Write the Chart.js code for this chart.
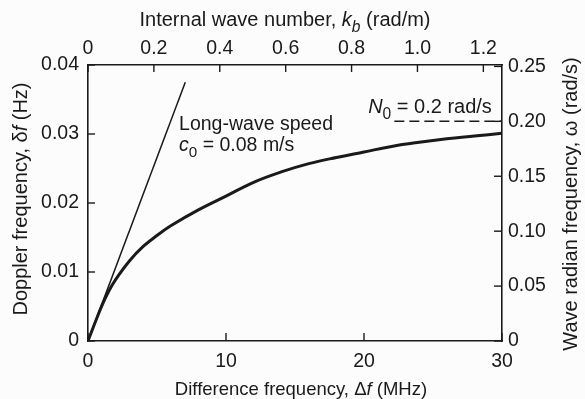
<!DOCTYPE html>
<html>
<head>
<meta charset="utf-8">
<script src="https://cdn.jsdelivr.net/npm/chart.js@4.4.1/dist/chart.umd.min.js"></script>
<style>
  body { margin: 0; background: #fdfcfd; }
  #wrap { width: 585px; height: 399px; }
</style>
</head>
<body>
<div id="wrap"><canvas id="chart" width="585" height="399"></canvas></div>
<script>
// curve: difference frequency (MHz) -> Doppler frequency (Hz)
const diffFreq    = [0, 0.5, 1, 1.5, 2, 3, 4, 5, 6, 8, 10, 12, 14, 16, 18, 20, 22, 24, 26, 28, 30];
const dopplerFreq = [0, 0.0026, 0.0051, 0.0072, 0.0089, 0.0116, 0.0137, 0.0153, 0.0167, 0.0190, 0.0210,
                     0.0230, 0.0245, 0.0257, 0.0266, 0.0274, 0.0282, 0.0288, 0.0293, 0.0297, 0.0301];
// long-wave speed line and the N0 level (right axis, rad/s)
const longWaveX = [0, 7.05];
const longWaveY = [0, 0.0375];
const n0X = [22.2, 30];
const n0Omega = [0.2, 0.2];

const xRange = [0, 30];
const yRange = [0, 0.04];
const kRange = [0, 1.2566];
const wRange = [0, 0.2513];

const xTicks = [0, 10, 20, 30];
const xTickLabels = ['0', '10', '20', '30'];
const yTicks = [0, 0.01, 0.02, 0.03, 0.04];
const yTickLabels = ['0', '0.01', '0.02', '0.03', '0.04'];
const kTicks = [0, 0.2, 0.4, 0.6, 0.8, 1.0, 1.2];
const kTickLabels = ['0', '0.2', '0.4', '0.6', '0.8', '1.0', '1.2'];
const wTicks = [0, 0.05, 0.10, 0.15, 0.20, 0.25];
const wTickLabels = ['0', '0.05', '0.10', '0.15', '0.20', '0.25'];

const ink = '#1a1a1a';
const FONT = '"Liberation Sans", Arial, sans-serif';
Chart.defaults.font.family = FONT;
Chart.defaults.color = ink;

function pts(xs, ys) {
    return xs.map((x, i) => ({ x: x, y: ys[i] }));
}

function axis(pos, range, ticks, labels, boxSize, pad) {
    const horiz = pos === 'top' || pos === 'bottom';
    return {
        type: 'linear',
        position: pos,
        min: range[0],
        max: range[1],
        grid: { display: false, drawTicks: false },
        border: { display: true, color: ink, width: 1.6 },
        ticks: {
            color: ink,
            font: { size: 19.5 },
            padding: pad,
            autoSkip: false,
            maxRotation: 0,
            callback: (v, i) => labels[i]
        },
        afterBuildTicks: s => { s.ticks = ticks.map(v => ({ value: v })); },
        afterFit: s => { if (horiz) s.height = boxSize; else s.width = boxSize; }
    };
}

// text with italic / subscript pieces: parts = [[text, 'n'|'i'|'s'|'is'], ...]
function partFont(style, size) {
    const it = style.indexOf('i') >= 0 ? 'italic ' : '';
    const sz = style.indexOf('s') >= 0 ? size * 0.78 : size;
    return it + sz + 'px ' + FONT;
}
function richWidth(ctx, parts, size) {
    let w = 0;
    parts.forEach(p => {
        ctx.font = partFont(p[1], size);
        w += ctx.measureText(p[0]).width;
    });
    return w;
}
function drawRich(ctx, parts, x, y, size, align) {
    let cx = align === 'center' ? x - richWidth(ctx, parts, size) / 2 : x;
    ctx.textBaseline = 'alphabetic';
    ctx.textAlign = 'left';
    parts.forEach(p => {
        ctx.font = partFont(p[1], size);
        const dy = p[1].indexOf('s') >= 0 ? size * 0.3 : 0;
        ctx.fillText(p[0], cx, y + dy);
        cx += ctx.measureText(p[0]).width;
    });
}

const inwardTicks = {
    id: 'inwardTicks',
    afterDatasetsDraw(chart) {
        const ctx = chart.ctx;
        const a = chart.chartArea;
        ctx.save();
        ctx.strokeStyle = ink;
        ctx.lineWidth = 1.4;
        ['x', 'x2', 'y', 'y2'].forEach(id => {
            const s = chart.scales[id];
            s.ticks.forEach(t => {
                const p = s.getPixelForValue(t.value);
                ctx.beginPath();
                if (id === 'x') { ctx.moveTo(p, a.bottom); ctx.lineTo(p, a.bottom - 8); }
                if (id === 'x2') { ctx.moveTo(p, a.top); ctx.lineTo(p, a.top + 7); }
                if (id === 'y') { ctx.moveTo(a.left, p); ctx.lineTo(a.left + 7, p); }
                if (id === 'y2') { ctx.moveTo(a.right, p); ctx.lineTo(a.right - 8, p); }
                ctx.stroke();
            });
        });
        ctx.restore();
    }
};

const titles = {
    id: 'titles',
    afterDraw(chart) {
        const ctx = chart.ctx;
        const sx = chart.scales.x, sy = chart.scales.y;
        ctx.save();
        ctx.fillStyle = ink;
        // top
        drawRich(ctx, [['Internal wave number, ', 'n'], ['k', 'i'], ['b', 'is'], [' (rad/m)', 'n']], 285, 26, 20, 'center');
        // bottom
        drawRich(ctx, [['Difference frequency, \u0394', 'n'], ['f', 'i'], [' (MHz)', 'n']], 301, 395, 18.5, 'center');
        // left, reads upward
        ctx.save();
        ctx.translate(27, 199);
        ctx.rotate(-Math.PI / 2);
        drawRich(ctx, [['Doppler frequency, \u03b4', 'n'], ['f', 'i'], [' (Hz)', 'n']], 0, 0, 20, 'center');
        ctx.restore();
        // right, also reads upward
        ctx.save();
        ctx.translate(577, 204);
        ctx.rotate(-Math.PI / 2);
        drawRich(ctx, [['Wave radian frequency, \u03c9 (rad/s)', 'n']], 0, 0, 20, 'center');
        ctx.restore();
        // annotations
        const lx = sx.getPixelForValue(6.6);
        drawRich(ctx, [['Long-wave speed', 'n']], lx, sy.getPixelForValue(0.0306), 19.5, 'left');
        drawRich(ctx, [['c', 'i'], ['0', 's'], [' = 0.08 m/s', 'n']], lx, sy.getPixelForValue(0.0275), 19.5, 'left');
        drawRich(ctx, [['N', 'i'], ['0', 's'], [' = 0.2 rad/s', 'n']], sx.getPixelForValue(20.3), sy.getPixelForValue(0.0330), 20, 'left');
        ctx.restore();
    }
};

new Chart(document.getElementById('chart'), {
    type: 'line',
    data: {
        datasets: [
            {
                data: pts(diffFreq, dopplerFreq),
                xAxisID: 'x', yAxisID: 'y',
                borderColor: ink, borderWidth: 3,
                pointRadius: 0, tension: 0.4
            },
            {
                data: pts(longWaveX, longWaveY),
                xAxisID: 'x', yAxisID: 'y',
                borderColor: ink, borderWidth: 1.5,
                pointRadius: 0
            },
            {
                data: pts(n0X, n0Omega),
                xAxisID: 'x', yAxisID: 'y2',
                borderColor: ink, borderWidth: 1.5,
                borderDash: [10, 5],
                pointRadius: 0
            }
        ]
    },
    options: {
        responsive: false,
        animation: false,
        layout: { padding: 0 },
        plugins: { legend: { display: false }, tooltip: { enabled: false } },
        scales: {
            x: axis('bottom', xRange, xTicks, xTickLabels, 58, 9),
            x2: axis('top', kRange, kTicks, kTickLabels, 65, 5),
            y: axis('left', yRange, yTicks, yTickLabels, 88, 9),
            y2: axis('right', wRange, wTicks, wTickLabels, 83, 6)
        }
    },
    plugins: [inwardTicks, titles]
});
</script>
</body>
</html>
